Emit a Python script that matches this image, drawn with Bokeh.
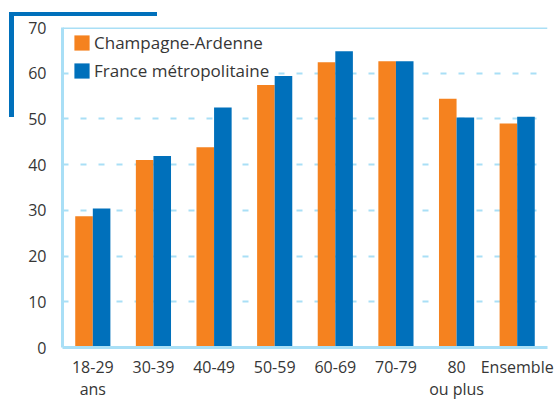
from bokeh.plotting import figure
from bokeh.models import (ColumnDataSource, FactorRange, Range1d, FixedTicker,
                          Legend, LegendItem, Span, InlineStyleSheet)
from bokeh.transform import dodge
from bokeh.embed import file_html
from bokeh.resources import INLINE

categories = ["18-29\nans", "30-39", "40-49", "50-59", "60-69", "70-79", "80\nou plus", "Ensemble"]
champagne = [28.7, 41.0, 43.8, 57.4, 62.4, 62.6, 54.4, 49.0]
france = [30.4, 41.9, 52.5, 59.4, 64.8, 62.6, 50.3, 50.5]
series_names = ["Champagne-Ardenne", "France métropolitaine"]
y_ticks = [0, 10, 20, 30, 40, 50, 60, 70]

ORANGE = "#f5821f"
BLUE = "#0070bb"
LIGHT = "#a9dff6"
TEXT = "#363636"
FONT = "Open Sans"

source = ColumnDataSource(dict(cat=categories, champ=champagne, fr=france))

corner_css = InlineStyleSheet(css="""
:host::before {
  content: "";
  position: absolute;
  left: 9px; top: 12px;
  width: 143px; height: 101px;
  border-left: 5px solid #0070bb;
  border-top: 4px solid #0070bb;
  z-index: 5;
  pointer-events: none;
}
""")

p = figure(width=558, height=402, x_range=FactorRange(*categories, range_padding=0),
           y_range=Range1d(0, 70), output_backend="svg", toolbar_location=None,
           min_border_left=62, min_border_right=11, min_border_top=27, min_border_bottom=51,
           stylesheets=[corner_css])
p.outline_line_color = None

r1 = p.vbar(x=dodge("cat", -0.145, range=p.x_range), top="champ", width=0.29,
            source=source, fill_color=ORANGE, line_color=None)
r2 = p.vbar(x=dodge("cat", 0.145, range=p.x_range), top="fr", width=0.29,
            source=source, fill_color=BLUE, line_color=None)

p.xgrid.grid_line_color = None
p.ygrid.grid_line_color = LIGHT
p.ygrid.grid_line_width = 2
p.ygrid.grid_line_dash = "6 12"
p.yaxis.ticker = FixedTicker(ticks=y_ticks)

for ax in (p.xaxis[0], p.yaxis[0]):
    ax.axis_line_color = LIGHT
    ax.axis_line_width = 3
    ax.major_tick_line_color = None
    ax.minor_tick_line_color = None
    ax.major_label_text_font = FONT
    ax.major_label_text_font_size = "16px"
    ax.major_label_text_color = TEXT
p.yaxis.major_label_standoff = 10
p.xaxis.major_label_standoff = 2
p.xaxis.major_label_text_line_height = 1.0

p.add_layout(Span(location=70, dimension="width", line_color=LIGHT, line_width=3))

legend = Legend(items=[LegendItem(label=series_names[0], renderers=[r1]),
                       LegendItem(label=series_names[1], renderers=[r2])],
                location=(10, 265), margin=0, padding=9, spacing=5,
                glyph_width=19, glyph_height=19, label_height=20, label_standoff=3,
                label_text_font=FONT, label_text_font_size="17px", label_text_color=TEXT,
                border_line_color=None, background_fill_color="white", background_fill_alpha=1)
p.add_layout(legend)

open("out.html", "w").write(file_html(p, INLINE))
